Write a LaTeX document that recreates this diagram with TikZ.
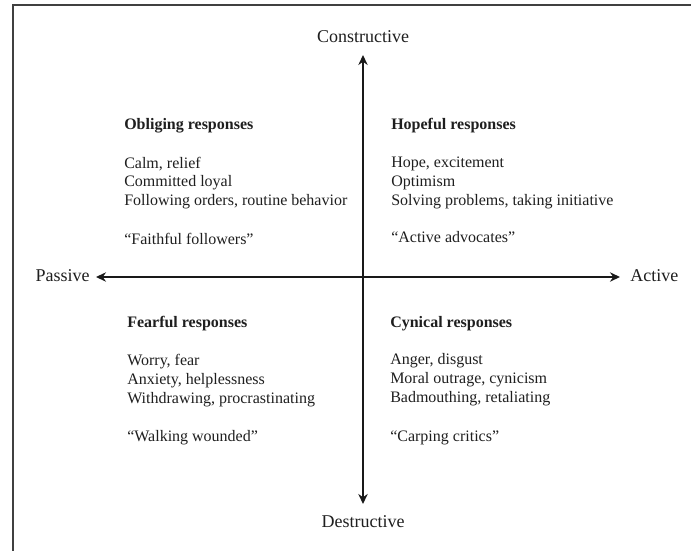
\documentclass[tikz,border=0pt]{standalone}
\usepackage{fontspec}
\setmainfont{Liberation Serif}
\usetikzlibrary{arrows.meta}
\begin{document}
\begin{tikzpicture}[x=0.75pt,y=-0.75pt,
  ln/.style={anchor=base west,inner sep=0pt,font=\fontsize{12}{14}\selectfont,text=black!88},
  hd/.style={ln,font=\fontsize{12}{14}\selectfont\bfseries},
  axlabel/.style={inner sep=0pt,font=\fontsize{13.5}{16}\selectfont,text=black!88},
  axis/.style={line width=1.4pt,black!90,{Stealth[length=7.5pt,width=7pt]}-{Stealth[length=7.5pt,width=7pt]}},
  frame/.style={line width=1.4pt,black!75}]
\useasboundingbox (0,0) rectangle (691,550);
\fill[white] (0,0) rectangle (691,550);
\draw[frame] (13,551) -- (13,5) -- (692,5);

% axis labels
\node[axlabel] (con) at (363,37) {Constructive};
\node[axlabel] (des) at (363,522) {Destructive};
\node[axlabel,anchor=east] (pas) at (90,276) {Passive};
\node[axlabel,anchor=west] (act) at (630,276) {Active};

\coordinate (ttip) at (363,55);
\coordinate (btip) at (363,504);
\coordinate (ltip) at (96,277);
\coordinate (rtip) at (620,277);
\draw[axis] (ttip) -- (btip);
\draw[axis] (ltip) -- (rtip);

% Obliging (top left)
\node[hd] (ob0) at (124,129) {Obliging responses};
\node[ln] (ob1) at (124,168) {Calm, relief};
\node[ln] (ob2) at (124,186.5) {Committed loyal};
\node[ln] (ob3) at (124,205) {Following orders, routine behavior};
\node[ln] (ob4) at (124,244) {``Faithful followers''};

% Hopeful (top right)
\node[hd] (ho0) at (391,129) {Hopeful responses};
\node[ln] (ho1) at (391,167.5) {Hope, excitement};
\node[ln] (ho2) at (391,186) {Optimism};
\node[ln] (ho3) at (391,205) {Solving problems, taking initiative};
\node[ln] (ho4) at (391,242.5) {``Active advocates''};

% Fearful (bottom left)
\node[hd] (fe0) at (127,327) {Fearful responses};
\node[ln] (fe1) at (127,365) {Worry, fear};
\node[ln] (fe2) at (127,384) {Anxiety, helplessness};
\node[ln] (fe3) at (127,403) {Withdrawing, procrastinating};
\node[ln] (fe4) at (127,441) {``Walking wounded''};

% Cynical (bottom right)
\node[hd] (cy0) at (390,327) {Cynical responses};
\node[ln] (cy1) at (390,364.5) {Anger, disgust};
\node[ln] (cy2) at (390,383.5) {Moral outrage, cynicism};
\node[ln] (cy3) at (390,402.5) {Badmouthing, retaliating};
\node[ln] (cy4) at (390,441) {``Carping critics''};
\end{tikzpicture}
\end{document}
